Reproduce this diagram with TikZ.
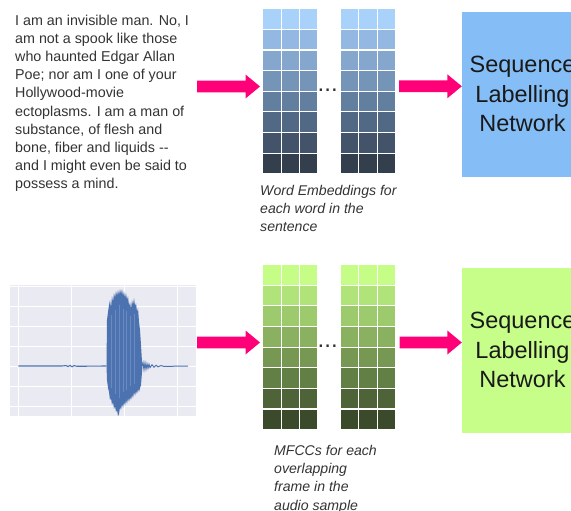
\documentclass[tikz,border=0pt]{standalone}
\usepackage{fontspec}
\setmainfont{Liberation Sans}
\usetikzlibrary{calc}
\definecolor{arrowc}{HTML}{FF0078}
\definecolor{txt}{HTML}{333333}
\definecolor{boxblue}{HTML}{85BEF6}
\definecolor{boxgreen}{HTML}{C7FE89}
\definecolor{wavebg}{HTML}{EAEAF2}
\definecolor{wave}{HTML}{4C72B0}
\definecolor{wavelt}{HTML}{6A8AC0}
\definecolor{b0}{HTML}{A9D2FB}
\definecolor{b1}{HTML}{93B9E2}
\definecolor{b2}{HTML}{85A7CD}
\definecolor{b3}{HTML}{7494B8}
\definecolor{b4}{HTML}{627F9F}
\definecolor{b5}{HTML}{526985}
\definecolor{b6}{HTML}{42536A}
\definecolor{b7}{HTML}{333F4D}
\definecolor{g0}{HTML}{C6FD87}
\definecolor{g1}{HTML}{B0E379}
\definecolor{g2}{HTML}{9DCA6C}
\definecolor{g3}{HTML}{8AB15F}
\definecolor{g4}{HTML}{769852}
\definecolor{g5}{HTML}{627F45}
\definecolor{g6}{HTML}{4E6438}
\definecolor{g7}{HTML}{3B4A2B}
\tikzset{
  bodytext/.style={anchor=base west, inner sep=0, text=txt, font=\fontsize{14.3}{17}\selectfont},
  captext/.style={anchor=base west, inner sep=0, text=txt, font=\fontsize{14.1}{17}\selectfont\itshape},
  gridnode/.style={inner sep=0, minimum width=55pt, minimum height=165pt},
  netbox/.style={inner sep=0, minimum width=121pt, minimum height=165pt, align=center, text=black!90,
    font=\fontsize{23.5}{29.5}\selectfont},
  dotsnode/.style={anchor=base, inner sep=0, text=black!80, font=\fontsize{24}{24}\selectfont},
  gridline/.style={draw=white, line width=1.1pt}
}
\newcommand\embgrid[2]{%
  \foreach \r in {0,...,7}{\foreach \c in {0,1,2}{%
    \fill[fill=#2\r] ($(#1.north west)+(\c*18.333,\r*20.625)$) rectangle ++(18.333,20.625);}}
  \foreach \c in {0,...,3}{\draw[gridline] ($(#1.north west)+(\c*18.333,0)$) -- ++(0,165);}
  \foreach \r in {0,...,8}{\draw[gridline] ($(#1.north west)+(0,\r*20.625)$) -- ++(55,0);}
}
\newcommand\blockarrow[2]{%
  \fill[arrowc] ($(#1)+(0,5.8)$) -- ($(#2)+(-14.5,5.8)$) -- ($(#2)+(-14.5,12)$) -- (#2)
    -- ($(#2)+(-14.5,-12)$) -- ($(#2)+(-14.5,-5.8)$) -- ($(#1)+(0,-5.8)$) -- cycle;
}
\begin{document}
\begin{tikzpicture}[x=1pt,y=-1pt]
\useasboundingbox (0,0) rectangle (571,511);
\clip (0,0) rectangle (571,511);

% ---------- top row ----------
\foreach \t [count=\i] in {{I am an invisible man. No, I},{am not a spook like those},{who haunted Edgar Allan},{Poe; nor am I one of your},{Hollywood-movie},{ectoplasms. I am a man of},{substance, of flesh and},{bone, fiber and liquids -\kern0pt-},{and I might even be said to},{possess a mind.}}
  \node[bodytext] (body\i) at (15,{25.4+18.15*(\i-1)}) {\t};

\node[gridnode] (eL) at (290.5,91.5) {};
\node[gridnode] (eR) at (368.2,91.5) {};
\embgrid{eL}{b}
\embgrid{eR}{b}
\node[dotsnode] (edots) at (327.7,91.3) {...};

\node[captext] (ec1) at (260,195.2) {Word Embeddings for};
\node[captext] (ec2) at (260,213.5) {each word in the};
\node[captext] (ec3) at (260,231.8) {sentence};

\node[netbox, fill=boxblue] (net1) at (522.5,94.2) {Sequence\\Labelling\\Network};

\coordinate (a1s) at (197,86.5);
\coordinate (a1e) at (260,86.5);
\coordinate (a2s) at (399,86.3);
\coordinate (a2e) at (net1.west);
\blockarrow{a1s}{a1e}
\blockarrow{a2s}{a2e|-a2s}

% ---------- bottom row ----------
\node[inner sep=0, minimum width=185.7pt, minimum height=131pt, fill=wavebg] (wav) at (102.85,350.5) {};
\foreach \x in {18.3,71.7,124.3,177.7}{\draw[white, line width=0.9pt] (\x,285) -- (\x,416);}
\foreach \y in {286.7,306.7,326.7,346.7,366,386,406}{\draw[white, line width=0.9pt] (10,\y) -- (195.7,\y);}
\draw[wave, line width=1.1pt] (18.3,366) -- (62,366) -- (66,365.6) -- (68,366.6) -- (70,365.4) -- (72,366.8) -- (74,365.6) -- (77,366.3) -- (106.5,366);
\draw[wave, line width=1pt] (142,366) -- (143,362.5) -- (144,369.5) -- (145,363) -- (146,369) -- (147,363.8) -- (148,368.2) -- (149,364.3) -- (150,367.6) -- (152,364.8) -- (154,367.2) -- (156,365.3) -- (158,366.8) -- (161,365.6) -- (164,366.4) -- (188,366);
\fill[wave] (106.5,366) -- (107,320) -- (108,312) -- (109,305) -- (110,300) -- (111,308) -- (112,296) -- (113,302) -- (114,293) -- (115,298) -- (116,291) -- (117,296) -- (118,290) -- (119,295) -- (120,289) -- (121,294) -- (122,289) -- (123,296) -- (124,291) -- (125,298) -- (126,293) -- (127,300) -- (128,296) -- (129,306) -- (130,302) -- (131,309) -- (132,300) -- (133,305) -- (134,298) -- (135,306) -- (136,303) -- (137,312) -- (138,308) -- (139,322) -- (140,330) -- (141,345) -- (142,362) -- (142.5,366)
  -- (142,372) -- (141,385) -- (140,388) -- (139,392) -- (138,389) -- (137,394) -- (136,391) -- (135,396) -- (134,392) -- (133,398) -- (132,395) -- (131,400) -- (130,397) -- (129,402) -- (128,398) -- (127,404) -- (126,400) -- (125,406) -- (124,402) -- (123,408) -- (122,404) -- (121,410) -- (120,407) -- (119,414) -- (118,416) -- (117,410) -- (116,412) -- (115,406) -- (114,409) -- (113,402) -- (112,405) -- (111,398) -- (110,400) -- (109,392) -- (108,388) -- (107,380) -- cycle;
\foreach \x/\a/\b in {111/315/388,115.5/310/394,119.5/305/398,123/309/392,126.5/311/390,130.5/316/386,134/314/384}
  {\draw[wavelt, line width=0.5pt] (\x,\a) -- (\x,\b);}

\node[gridnode] (mL) at (290.5,347.3) {};
\node[gridnode] (mR) at (368.2,347.3) {};
\embgrid{mL}{g}
\embgrid{mR}{g}
\node[dotsnode] (mdots) at (327.7,347.5) {...};

\node[captext] (mc1) at (274,455.2) {MFCCs for each};
\node[captext] (mc2) at (274,473.5) {overlapping};
\node[captext] (mc3) at (274,491.9) {frame in the};
\node[captext] (mc4) at (274,510.2) {audio sample};

\node[netbox, fill=boxgreen] (net2) at (522.5,350.4) {Sequence\\Labelling\\Network};

\coordinate (a3s) at (197,342.5);
\coordinate (a3e) at (260,342.5);
\coordinate (a4s) at (399.5,342.5);
\blockarrow{a3s}{a3e}
\blockarrow{a4s}{net2.west|-a4s}
\end{tikzpicture}
\end{document}
